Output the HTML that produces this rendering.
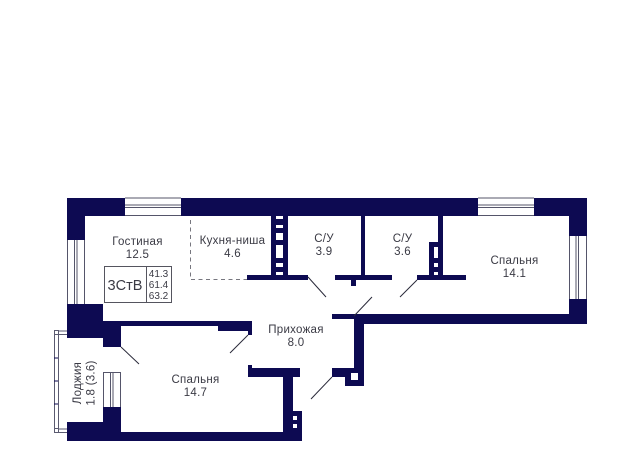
<!DOCTYPE html>
<html><head><meta charset="utf-8"><style>
html,body{margin:0;padding:0;background:#fff}
svg{display:block}
text{font-family:"Liberation Sans",sans-serif;fill:#3a3a44;font-size:11.5px;letter-spacing:.27px;text-anchor:middle}
</style></head><body>
<svg width="640" height="473" viewBox="0 0 640 473" xmlns="http://www.w3.org/2000/svg">
<rect width="640" height="473" fill="#fff"/>
<g fill="#0d0a52">
<rect x="67" y="198" width="520" height="18"/>
<rect x="67" y="198" width="18" height="140"/>
<rect x="569" y="198" width="18" height="126"/>
<rect x="354" y="314" width="233" height="10"/>
<rect x="67" y="304" width="36" height="34"/>
<rect x="85" y="321" width="133" height="5"/>
<rect x="103" y="321" width="18" height="26"/>
<rect x="218" y="321" width="34" height="10"/>
<rect x="248" y="321" width="4" height="14"/>
<rect x="271" y="216" width="17" height="60"/>
<rect x="247" y="275" width="61" height="5"/>
<rect x="361" y="216" width="4" height="60"/>
<rect x="335" y="275" width="57" height="5"/>
<rect x="351" y="279" width="5" height="7"/>
<rect x="438" y="216" width="5" height="60"/>
<rect x="429" y="242" width="14" height="34"/>
<rect x="417" y="275" width="49" height="5"/>
<rect x="332" y="314" width="30" height="5"/>
<rect x="354" y="314" width="10" height="72"/>
<rect x="332" y="368" width="32" height="9"/>
<rect x="345" y="368" width="19" height="18"/>
<rect x="248" y="368" width="52" height="9"/>
<rect x="248" y="365" width="4" height="8"/>
<rect x="283" y="368" width="10" height="73"/>
<rect x="283" y="411" width="19" height="30"/>
<rect x="67" y="422" width="54" height="19"/>
<rect x="103" y="407" width="18" height="34"/>
<rect x="67" y="432" width="235" height="9"/>
</g>
<g fill="#fff">
<rect x="276" y="216" width="7" height="3"/><rect x="276" y="225" width="7" height="3"/>
<rect x="276" y="233" width="7" height="7"/><rect x="276" y="245" width="7" height="13"/>
<rect x="276" y="263" width="7" height="4"/><rect x="276" y="272" width="7" height="3"/>
<rect x="434" y="247" width="4" height="11"/><rect x="434" y="263" width="4" height="4"/>
<rect x="434" y="272" width="4" height="3"/>
<rect x="351" y="373" width="7" height="7"/>
<rect x="293" y="416" width="4" height="4"/><rect x="293" y="424" width="4" height="4"/>
<rect x="125" y="198" width="56" height="18"/>
<rect x="478" y="198" width="56" height="18"/>
<rect x="67" y="240" width="18" height="64"/>
<rect x="569" y="236" width="18" height="63"/>
<rect x="103" y="372" width="18" height="35"/>
</g>
<g stroke="#55556a" stroke-width="1" fill="none">
<path d="M125 198H181M125 205H181M125 207.500H181M125 215.500H181"/>
<path d="M478 198H534M478 205H534M478 207.500H534M478 215.500H534"/>
<path d="M67.500 240V304M74.500 240V304M77 240V304M84.500 240V304"/>
<path d="M569.500 236V299M576 236V299M578.500 236V299M586.500 236V299"/>
<path d="M103.500 372V407M103 372.500H121M110.500 372V407M113 372V407M120.500 372V407"/>
</g>
<g stroke="#5a5a70" stroke-width="1" fill="#fff">
<rect x="54.500" y="334.500" width="4" height="94"/>
<rect x="54.500" y="330.500" width="4" height="4"/>
<rect x="54.500" y="428.500" width="4" height="4"/>
<path d="M58 331H67M58 334.500H67M58 429H67M58 432.500H67" fill="none"/>
</g>
<g stroke="#0d0a52" stroke-width="1"><path d="M54 358H58M54 381H58M54 404H58"/></g>
<g stroke="#2a2a3a" stroke-width="1" fill="none">
<path d="M308 277L326 297M417 280L400 297M372 297L354 316M332 377L311 399M248 335L230 353M121 347L139 364"/>
</g>
<path d="M190.500 220V279.500H247" stroke="#77777f" stroke-width="1" stroke-dasharray="4 3.500" fill="none"/>
<g fill="none" stroke="#55555f" stroke-width="1"><rect x="104.500" y="266.500" width="67" height="36"/><path d="M146.500 266V303"/></g>
<text x="125" y="290" style="font-size:14.500px;letter-spacing:0" textLength="35" lengthAdjust="spacingAndGlyphs">3СтВ</text>
<text x="158.500" y="277" style="font-size:10px;letter-spacing:0">41.3</text>
<text x="158.500" y="288" style="font-size:10px;letter-spacing:0">61.4</text>
<text x="158.500" y="299" style="font-size:10px;letter-spacing:0">63.2</text>
<text x="137.500" y="245">Гостиная</text><text x="137.500" y="258">12.5</text>
<text x="232.500" y="244">Кухня-ниша</text><text x="232.500" y="257">4.6</text>
<text x="324" y="242">С/У</text><text x="324" y="255">3.9</text>
<text x="402.500" y="242">С/У</text><text x="402.500" y="255">3.6</text>
<text x="514.500" y="264">Спальня</text><text x="514.500" y="277">14.1</text>
<text x="296" y="333">Прихожая</text><text x="296" y="346">8.0</text>
<text x="195.500" y="383">Спальня</text><text x="195.500" y="396">14.7</text>
<text transform="translate(81,383) rotate(-90)">Лоджия</text>
<text transform="translate(94.500,383) rotate(-90)">1.8 (3.6)</text>
</svg>
</body></html>
